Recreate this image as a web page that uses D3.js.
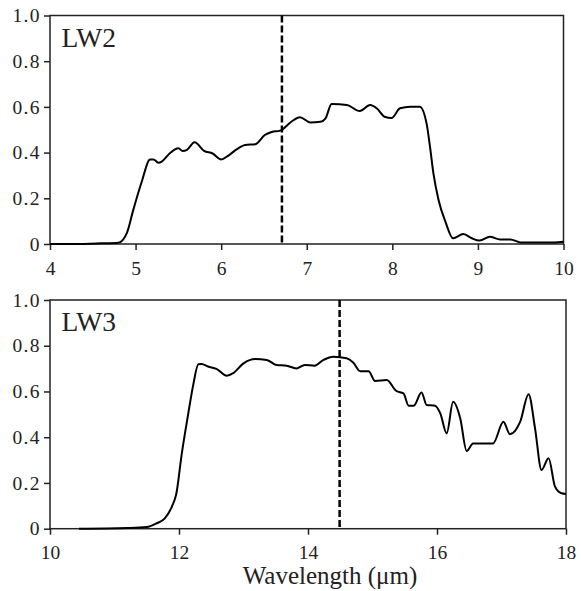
<!DOCTYPE html>
<html>
<head>
<meta charset="utf-8">
<script src="https://cdn.jsdelivr.net/npm/d3@7"></script>
<style>
  body { margin: 0; background: #fff; }
  svg text { font-family: "Liberation Serif", "Times New Roman", serif !important; fill: #222; }
</style>
</head>
<body>
<svg id="chart" width="581" height="591"></svg>
<script>
// LW2 filter transmission
var lw2Wave = [4.0, 4.3, 4.6, 4.8, 4.9, 4.97, 5.07, 5.17, 5.21, 5.265, 5.31, 5.40, 5.50, 5.55, 5.60, 5.69, 5.80, 5.90, 6.00, 6.08,
               6.18, 6.28, 6.40, 6.51, 6.59, 6.69, 6.82, 6.92, 7.04, 7.16, 7.22, 7.29, 7.47, 7.62, 7.74, 7.82, 7.91, 7.99, 8.09, 8.21,
               8.32, 8.40, 8.44, 8.48, 8.54, 8.62, 8.71, 8.83, 8.93, 9.02, 9.14, 9.26, 9.38, 9.50, 9.89, 10.0]
var lw2Trans = [0, 0, 0.003, 0.006, 0.05, 0.145, 0.27, 0.37, 0.37, 0.356, 0.362, 0.397, 0.419, 0.407, 0.412, 0.445, 0.408, 0.396, 0.37, 0.386,
                0.414, 0.433, 0.437, 0.477, 0.49, 0.496, 0.535, 0.555, 0.532, 0.535, 0.55, 0.613, 0.608, 0.582, 0.608, 0.593, 0.557, 0.551, 0.594, 0.601,
                0.601, 0.528, 0.426, 0.309, 0.193, 0.098, 0.025, 0.044, 0.025, 0.015, 0.032, 0.02, 0.02, 0.007, 0.007, 0.01]
var lw2Ref = 6.71

// LW3 filter transmission
var lw3Wave = [10.45, 11.2, 11.5, 11.65, 11.78, 11.89, 11.96, 12.04, 12.14, 12.22, 12.30, 12.35, 12.45, 12.58, 12.74, 12.84, 13.0, 13.18, 13.36, 13.51,
               13.67, 13.82, 13.95, 14.1, 14.24, 14.39, 14.6, 14.7, 14.81, 14.94, 15.04, 15.22, 15.37, 15.48, 15.56, 15.64, 15.76, 15.84, 15.97, 16.05,
               16.15, 16.25, 16.36, 16.46, 16.56, 16.87, 17.03, 17.13, 17.29, 17.42, 17.52, 17.62, 17.73, 17.83, 17.93, 18.0]
var lw3Trans = [0, 0.003, 0.007, 0.023, 0.045, 0.097, 0.155, 0.322, 0.497, 0.628, 0.719, 0.72, 0.709, 0.699, 0.669, 0.68, 0.723, 0.742, 0.738, 0.716,
                0.713, 0.701, 0.716, 0.713, 0.738, 0.752, 0.745, 0.727, 0.689, 0.689, 0.646, 0.65, 0.602, 0.592, 0.538, 0.538, 0.596, 0.541, 0.538, 0.505,
                0.417, 0.555, 0.483, 0.34, 0.373, 0.373, 0.468, 0.413, 0.468, 0.588, 0.439, 0.257, 0.308, 0.184, 0.155, 0.152]
var lw3Ref = 14.49

var yTicks = [0, 0.2, 0.4, 0.6, 0.8, 1.0]
var lw2Ticks = [4, 5, 6, 7, 8, 9, 10]
var lw3Ticks = [10, 12, 14, 16, 18]

var svg = d3.select("#chart")

var panels = [
    { name: "LW2", wave: lw2Wave, trans: lw2Trans, ref: lw2Ref, dom: [4, 10], ticks: lw2Ticks,
      left: 50, right: 563.5, top: 15.5, bottom: 244, labelPad: 11 },
    { name: "LW3", wave: lw3Wave, trans: lw3Trans, ref: lw3Ref, dom: [10, 18], ticks: lw3Ticks,
      left: 50, right: 566, top: 300, bottom: 528.7, labelPad: 10.5 }
]

panels.forEach(function (p) {
    var x = d3.scaleLinear().domain(p.dom).range([p.left, p.right])
    var y = d3.scaleLinear().domain([0, 1]).range([p.bottom, p.top])
    var g = svg.append("g")

    // frame
    g.append("rect")
        .attr("x", p.left).attr("y", p.top)
        .attr("width", p.right - p.left).attr("height", p.bottom - p.top)
        .attr("fill", "none").attr("stroke", "#222").attr("stroke-width", 1.5)

    var xAxis = g.append("g")
        .attr("transform", `translate(0,${p.bottom})`)
        .call(d3.axisBottom(x).tickValues(p.ticks).tickSize(6).tickPadding(p.labelPad).tickFormat(d3.format("d")))
    var yAxis = g.append("g")
        .attr("transform", `translate(${p.left},0)`)
        .call(d3.axisLeft(y).tickValues(yTicks).tickSize(6).tickPadding(3)
            .tickFormat(d => d === 0 ? "0" : d3.format(".1f")(d)))

    ;[xAxis, yAxis].forEach(function (a) {
        a.attr("font-family", null)
        a.select(".domain").remove()
        a.selectAll("line").attr("stroke", "#222").attr("stroke-width", 1.5)
        a.selectAll("text").attr("font-size", 19.5)
    })
    yAxis.selectAll("text").attr("letter-spacing", 1.4)

    var pts = p.wave.map((w, i) => [w, p.trans[i]])
    var line = d3.line().x(d => x(d[0])).y(d => y(d[1])).curve(d3.curveMonotoneX)
    g.append("path")
        .datum(pts)
        .attr("d", line)
        .attr("fill", "none").attr("stroke", "#000").attr("stroke-width", 2)

    g.append("line")
        .attr("x1", x(p.ref)).attr("x2", x(p.ref))
        .attr("y1", y(1)).attr("y2", y(0))
        .attr("stroke", "#000").attr("stroke-width", 2.5)
        .attr("stroke-dasharray", "7,3")

    g.append("text")
        .attr("x", p.left + 11.5).attr("y", p.top + 31)
        .attr("font-size", 27.5)
        .text(p.name)
})

svg.append("text")
    .attr("x", 330).attr("y", 584)
    .attr("text-anchor", "middle")
    .attr("font-size", 25)
    .text("Wavelength (μm)")
</script>
</body>
</html>
